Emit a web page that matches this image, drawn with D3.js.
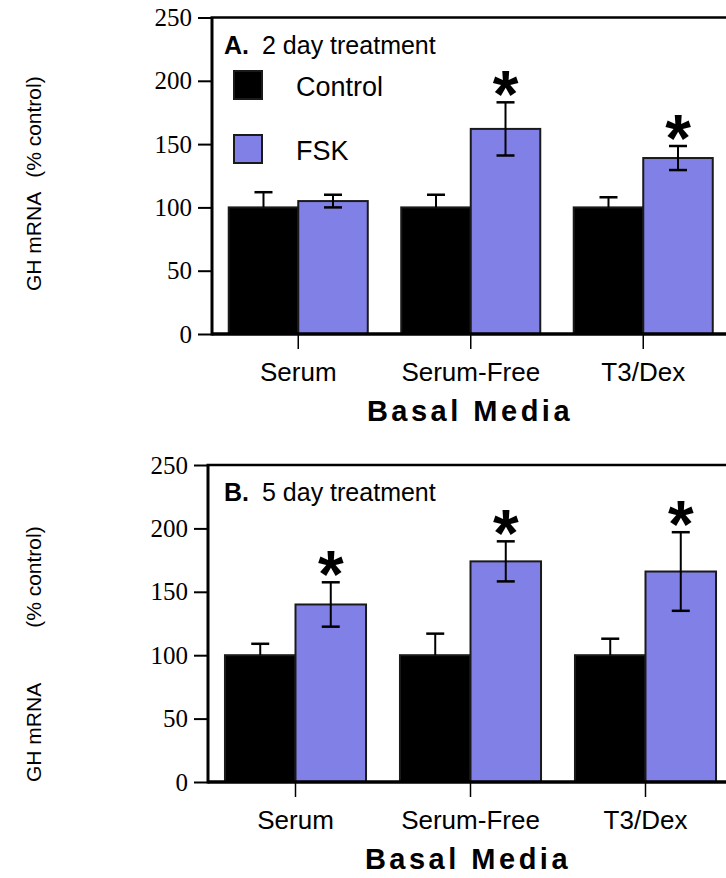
<!DOCTYPE html>
<html>
<head>
<meta charset="utf-8">
<script src="https://cdn.jsdelivr.net/npm/d3@7"></script>
<style>
  html, body { margin: 0; padding: 0; background: #fff; }
  svg { display: block; }
</style>
</head>
<body>
<svg id="chart" width="726" height="878"></svg>
<script>
// ---------- data ----------
const categories = ["Serum", "Serum-Free", "T3/Dex"];
const seriesNames = ["Control", "FSK"];
const yTicks = [0, 50, 100, 150, 200, 250];

const controlA = [100, 100, 100];
const controlErrA = [12, 10, 8];
const fskA = [105, 162, 139];
const fskErrA = [5, 21, 9.5];
const sigA = [false, true, true];

const controlB = [100, 100, 100];
const controlErrB = [9, 17, 13];
const fskB = [140, 174, 166];
const fskErrB = [17.5, 15.8, 31];
const sigB = [true, true, true];

const panelTitles = [["A.", "2 day treatment"], ["B.", "5 day treatment"]];
const xAxisTitle = "Basal Media";
const yAxisTitleParts = ["GH mRNA", "(% control)"];

// ---------- layout ----------
const SANS = "'Liberation Sans', Arial, Helvetica, sans-serif";
const SERIF = "'Liberation Serif', 'Times New Roman', 'DejaVu Serif', serif";
const colors = { Control: "#000000", FSK: "#8080e6" };
const panels = [
  { axisX: 212, top: 17.5, bottom: 334, step: 172.5, control: controlA, controlErr: controlErrA,
    fsk: fskA, fskErr: fskErrA, sig: sigA, title: panelTitles[0], legend: true,
    yLabelX: 41, yLabelStart: 291, yLabelGap: 14 },
  { axisX: 208, top: 465, bottom: 782, step: 175, control: controlB, controlErr: controlErrB,
    fsk: fskB, fskErr: fskErrB, sig: sigB, title: panelTitles[1], legend: false,
    yLabelX: 41, yLabelStart: 782, yLabelGap: 55 }
];

const svg = d3.select("#chart");
const W = 726;

panels.forEach(p => {
  const g = svg.append("g");
  const y = d3.scaleLinear().domain([0, 250]).range([p.bottom, p.top]);
  const x = d3.scaleBand().domain(categories)
    .range([p.axisX, p.axisX + p.step * categories.length])
    .paddingInner(0.194).paddingOuter(0.097);
  const xs = d3.scaleBand().domain(seriesNames).range([0, x.bandwidth()]);

  const rows = categories.map((c, i) => ({
    cat: c,
    vals: [
      { s: "Control", v: p.control[i], e: p.controlErr[i], both: false },
      { s: "FSK", v: p.fsk[i], e: p.fskErr[i], both: true }
    ],
    sig: p.sig[i]
  }));

  // bars
  const grp = g.selectAll(".grp").data(rows).join("g")
    .attr("transform", d => `translate(${x(d.cat)},0)`);
  grp.selectAll("rect").data(d => d.vals).join("rect")
    .attr("x", d => xs(d.s))
    .attr("y", d => y(d.v))
    .attr("width", xs.bandwidth())
    .attr("height", d => y(0) - y(d.v))
    .attr("fill", d => colors[d.s])
    .attr("stroke", "#1a1a1a")
    .attr("stroke-width", 2);

  // error bars
  const eb = grp.selectAll(".eb").data(d => d.vals).join("g").attr("class", "eb");
  const cap = 9;
  eb.append("line")
    .attr("x1", d => xs(d.s) + xs.bandwidth() / 2)
    .attr("x2", d => xs(d.s) + xs.bandwidth() / 2)
    .attr("y1", d => d.both ? y(d.v - d.e) : y(d.v))
    .attr("y2", d => y(d.v + d.e))
    .attr("stroke", "#000").attr("stroke-width", 2);
  eb.append("line")
    .attr("x1", d => xs(d.s) + xs.bandwidth() / 2 - cap)
    .attr("x2", d => xs(d.s) + xs.bandwidth() / 2 + cap)
    .attr("y1", d => y(d.v + d.e)).attr("y2", d => y(d.v + d.e))
    .attr("stroke", "#000").attr("stroke-width", 2.5);
  eb.filter(d => d.both).append("line")
    .attr("x1", d => xs(d.s) + xs.bandwidth() / 2 - cap)
    .attr("x2", d => xs(d.s) + xs.bandwidth() / 2 + cap)
    .attr("y1", d => y(d.v - d.e)).attr("y2", d => y(d.v - d.e))
    .attr("stroke", "#000").attr("stroke-width", 2.5);

  // asterisks
  grp.filter(d => d.sig).append("text")
    .attr("x", d => xs("FSK") + xs.bandwidth() / 2)
    .attr("y", d => y(d.vals[1].v + d.vals[1].e) + 15)
    .attr("text-anchor", "middle")
    .style("font-family", SANS)
    .style("font-weight", "bold")
    .style("font-size", "66px")
    .text("*");

  // y axis
  const yAxis = d3.axisLeft(y).tickValues(yTicks).tickSize(14).tickPadding(6);
  const ya = g.append("g").attr("transform", `translate(${p.axisX},0)`).call(yAxis);
  ya.attr("font-family", null).attr("font-size", null);
  ya.select(".domain").remove();
  ya.selectAll(".tick line").attr("stroke", "#000").attr("stroke-width", 2);
  ya.selectAll(".tick text")
    .style("font-family", SERIF)
    .style("font-size", "25px").attr("fill", "#000");
  g.append("line").attr("x1", p.axisX).attr("x2", p.axisX)
    .attr("y1", p.top).attr("y2", p.bottom + 1.5)
    .attr("stroke", "#000").attr("stroke-width", 3);
  // top frame
  g.append("line").attr("x1", p.axisX - 1.5).attr("x2", W)
    .attr("y1", p.top).attr("y2", p.top)
    .attr("stroke", "#000").attr("stroke-width", 2.5);

  // x axis
  const xAxis = d3.axisBottom(x).tickSizeInner(15).tickSizeOuter(0).tickPadding(14);
  const xa = g.append("g").attr("transform", `translate(0,${p.bottom})`).call(xAxis);
  xa.attr("font-family", null).attr("font-size", null);
  xa.select(".domain").remove();
  xa.selectAll(".tick line").attr("stroke", "#000").attr("stroke-width", 1.5);
  xa.selectAll(".tick text")
    .style("font-family", SANS)
    .style("font-size", "26px").attr("fill", "#000");
  g.append("line").attr("x1", p.axisX).attr("x2", W)
    .attr("y1", p.bottom).attr("y2", p.bottom)
    .attr("stroke", "#000").attr("stroke-width", 3.5);

  // x axis title
  g.append("text")
    .attr("x", (p.axisX + W) / 2 + 1)
    .attr("y", p.bottom + 87)
    .attr("text-anchor", "middle")
    .style("font-family", SANS)
    .style("font-weight", "bold").style("font-size", "29px")
    .style("letter-spacing", "3.5px")
    .text(xAxisTitle);

  // y axis title
  const yl = g.append("text")
    .attr("transform", `translate(${p.yLabelX},${p.yLabelStart}) rotate(-90)`)
    .attr("text-anchor", "start")
    .style("font-family", SANS)
    .style("font-size", "21px");
  yl.append("tspan").text(yAxisTitleParts[0]);
  yl.append("tspan").attr("dx", p.yLabelGap).text(yAxisTitleParts[1]);

  // panel title
  const t = g.append("text")
    .attr("x", 224).attr("y", p.top + 36)
    .style("font-family", SANS)
    .style("font-size", "25px");
  t.append("tspan").style("font-weight", "bold").text(p.title[0]);
  t.append("tspan").attr("x", 262).text(p.title[1]);

  // legend
  if (p.legend) {
    const lg = g.append("g");
    const items = lg.selectAll("g").data(seriesNames).join("g")
      .attr("transform", (d, i) => `translate(234,${71 + i * 64})`);
    items.append("rect").attr("width", 28).attr("height", 28)
      .attr("fill", d => colors[d]).attr("stroke", "#1a1a1a").attr("stroke-width", 2);
    items.append("text").attr("x", 62).attr("y", 25)
      .style("font-family", SANS)
      .style("font-size", "27px").text(d => d);
  }
});
</script>
</body>
</html>
